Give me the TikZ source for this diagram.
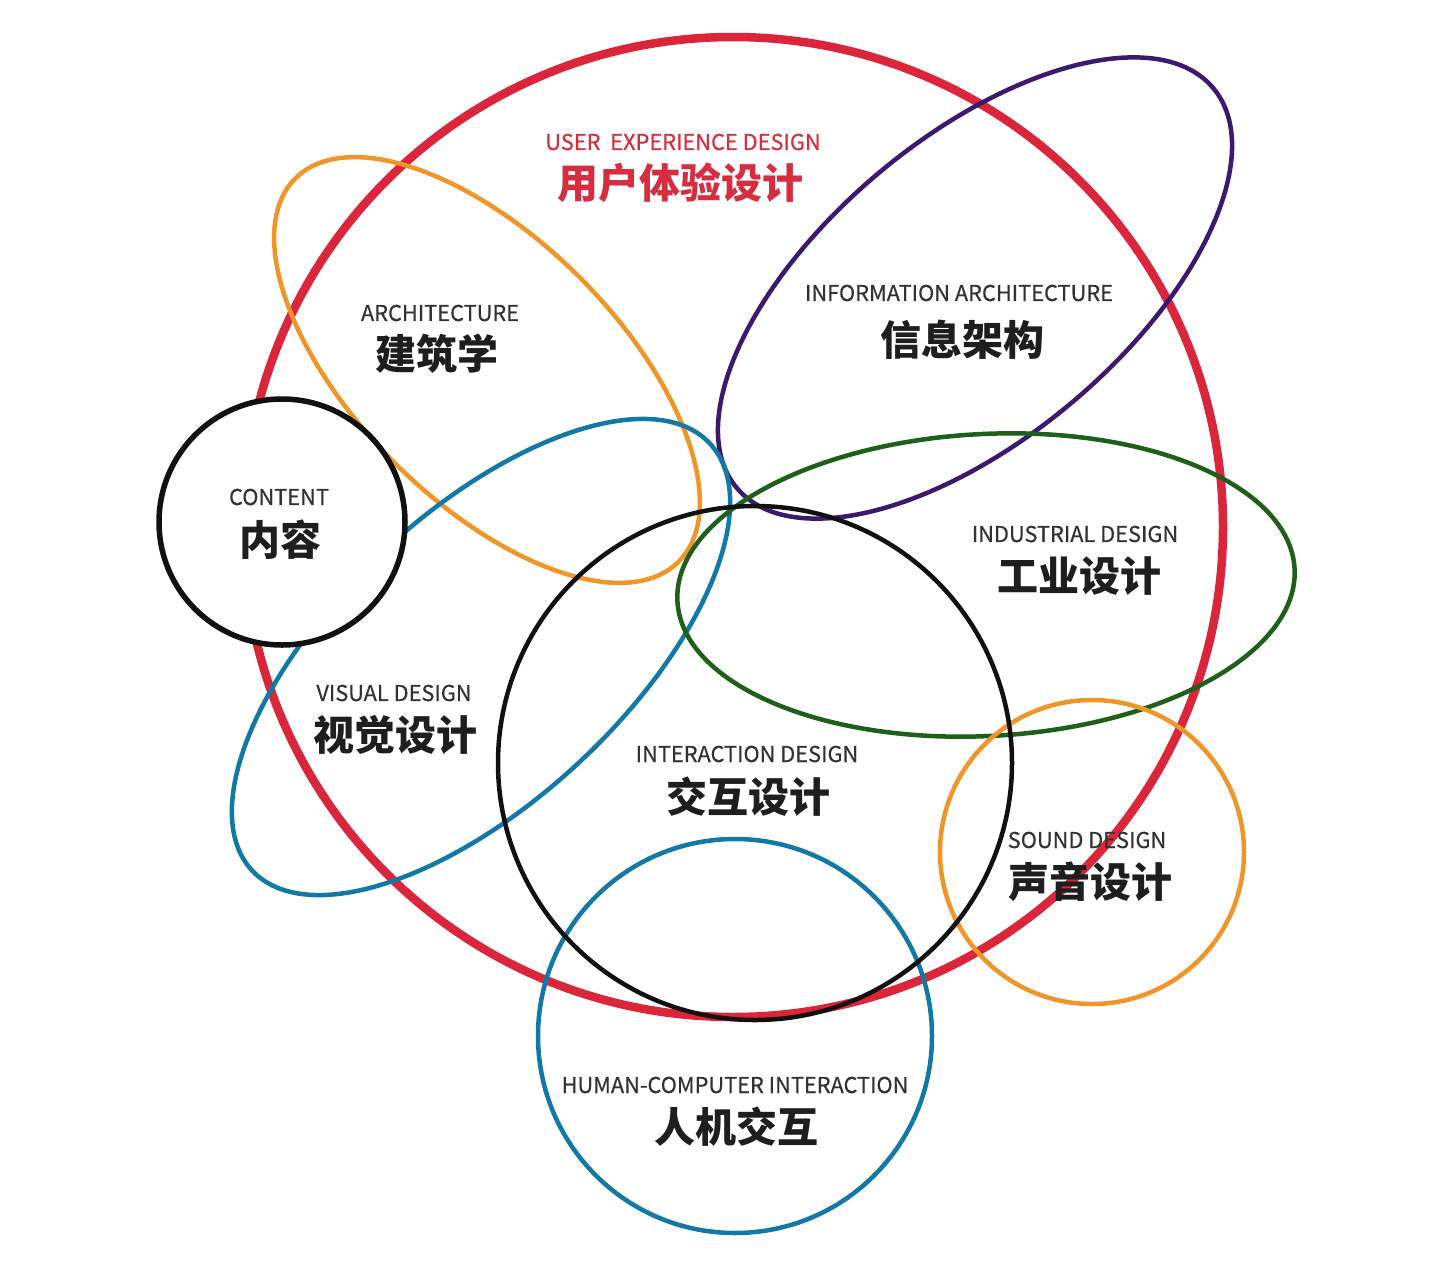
\documentclass[tikz,border=0pt]{standalone}
\usepackage{fontspec}
\setmainfont{Noto Sans CJK SC}
\newfontfamily\enfont{Noto Sans CJK SC}[FakeBold=0.35]
\definecolor{uxred}{RGB}{218,37,58}
\definecolor{uxorange}{RGB}{240,150,40}
\definecolor{uxpurple}{RGB}{58,26,108}
\definecolor{uxblue}{RGB}{18,120,165}
\definecolor{uxgreen}{RGB}{30,95,25}
\definecolor{uxblack}{RGB}{17,17,17}
\definecolor{textgray}{RGB}{50,50,50}
\definecolor{textdark}{RGB}{30,30,30}
\definecolor{textred}{RGB}{215,45,65}
\begin{document}
\begin{tikzpicture}[x=1pt,y=-1pt,
  ring/.style={line width=4.5pt},
  en/.style={font=\enfont\fontsize{21.8}{24}\selectfont, text=textgray, inner sep=0pt},
  zh/.style={font=\fontsize{41}{44}\selectfont\bfseries, text=textdark, inner sep=0pt}]
\useasboundingbox[fill=white] (0,0) rectangle (1446,1264);
% UX big circle
\draw[uxred, line width=8.5pt] (733,527) circle [radius=490pt];
% architecture
\draw[uxorange, ring, rotate around={-45:(487,370)}] (487,370) ellipse [x radius=271pt, y radius=131pt];
% information architecture
\draw[uxpurple, ring, rotate around={40:(975,288)}] (975,288) ellipse [x radius=311pt, y radius=150pt];
% visual design
\draw[uxblue, ring, rotate around={43:(481,657)}] (481,657) ellipse [x radius=313pt, y radius=144pt];
% industrial design
\draw[uxgreen, ring, rotate around={3:(986,585)}] (986,585) ellipse [x radius=309pt, y radius=151pt];
% sound design
\draw[uxorange, ring] (1092,852) circle [radius=152pt];
% HCI
\draw[uxblue, ring] (735,1036) circle [radius=197pt];
% interaction design
\draw[uxblack, ring] (755,763) circle [radius=257pt];
% content
\draw[uxblack, line width=5.5pt, fill=white] (282,522) circle [radius=123pt];

% labels
\node[en, text=textred] (uxen) at (683,142) {USER\ \ EXPERIENCE DESIGN};
\node[zh, text=textred] (uxzh) at (680,183) {用户体验设计};
\node[en] (archen) at (440,313) {ARCHITECTURE};
\node[zh] (archzh) at (437,354) {建筑学};
\node[en] (iaen) at (959,293) {INFORMATION ARCHITECTURE};
\node[zh] (iazh) at (962,340) {信息架构};
\node[en] (conen) at (279,497) {CONTENT};
\node[zh] (conzh) at (280,540) {内容};
\node[en] (inden) at (1075,534) {INDUSTRIAL DESIGN};
\node[zh] (indzh) at (1079,576) {工业设计};
\node[en] (visen) at (394,693) {VISUAL DESIGN};
\node[zh] (viszh) at (395,735) {视觉设计};
\node[en] (ixden) at (747,754) {INTERACTION DESIGN};
\node[zh] (ixdzh) at (748,797) {交互设计};
\node[en] (snden) at (1087,840) {SOUND DESIGN};
\node[zh] (sndzh) at (1090,882) {声音设计};
\node[en] (hcien) at (735,1085) {HUMAN-COMPUTER INTERACTION};
\node[zh] (hcizh) at (736,1127) {人机交互};
\end{tikzpicture}
\end{document}
